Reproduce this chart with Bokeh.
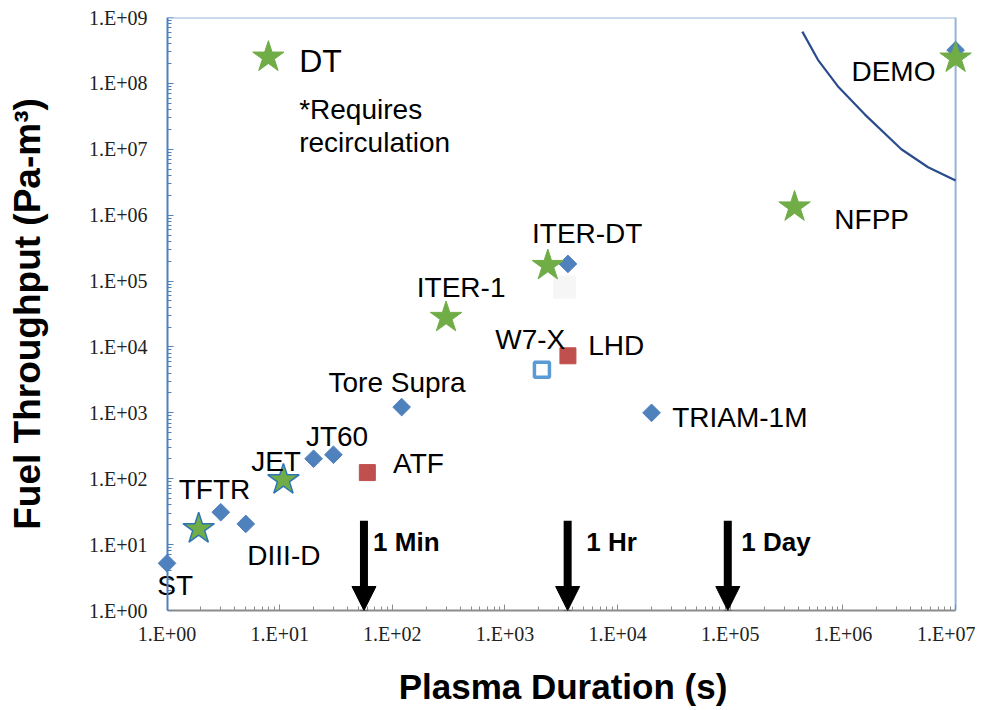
import numpy as np
from bokeh.plotting import figure
from bokeh.models import (Range1d, FixedTicker, CustomJSTickFormatter, Arrow,
                          NormalHead, ColumnDataSource, LogAxis)
from bokeh.core.properties import value
from bokeh.embed import file_html
from bokeh.resources import INLINE

# ---------------- data ----------------
# blue diamonds (machines)
dia_x = [1, 3, 5, 20, 30, 121, 3620, 20000, 1e7]
dia_y = [5.2, 31, 20.6, 201, 231, 1222, 182000, 1000, 3.2e8]

# DT stars with blue outline (TFTR, JET)
star_o_x = [1.91, 10.8]
star_o_y = [17.4, 96]

# DT stars plain (legend DT, ITER-1, ITER-DT, NFPP, DEMO)
star_x = [7.94, 300, 2400, 372000, 1e7]
star_y = [2.5e8, 28000, 172000, 1.33e6, 2.42e8]

# red squares (ATF, LHD)
red_x = [60, 3620]
red_y = [124, 7340]

# W7-X hollow square
w7_x = [2128]
w7_y = [4520]

# faint square under ITER-DT
faint_x = [3375]
faint_y = [81000]

# recirculation boundary curve
curve_x = [4.36e5, 6.0e5, 9.0e5, 1.56e6, 3.3e6, 5.7e6, 1e7]
curve_y = [6.1e8, 2.28e8, 9.06e7, 3.39e7, 1.0e7, 5.33e6, 3.36e6]

# time markers (arrows)
arrow_x = [56, 3600, 95000]
arrow_top = [23, 23, 23]
arrow_bot = [1, 1, 1]
arrow_lab = ["1 Min", "1 Hr", "1 Day"]
arrow_lab_x = [67.5, 5260, 125000]
arrow_lab_y = [10.9, 10.9, 10.9]

# labels
lab_c_text = ["ITER-DT", "ITER-1", "W7-X", "Tore Supra", "JT60", "TFTR", "JET", "DIII-D", "ST"]
lab_c_x = [5370, 408, 1675, 110, 32.3, 2.64, 9.29, 10.9, 1.18]
lab_c_y = [5.28e5, 7.85e4, 1.29e4, 2910, 432, 68.8, 181, 6.74, 2.38]

lab_l_text = ["LHD", "ATF", "NFPP", "TRIAM-1M", "*Requires", "recirculation"]
lab_l_x = [5480, 101.6, 8.39e5, 30500, 14.9, 14.9]
lab_l_y = [1.05e4, 169, 8.59e5, 864, 4.03e7, 1.28e7]

lab_r_text = ["DEMO"]
lab_r_x = [6.62e6]
lab_r_y = [1.51e8]

dt_text = ["DT"]
dt_x = [14.9]
dt_y = [2.2e8]

x_ticks = [10.0 ** i for i in range(0, 8)]
y_ticks = [10.0 ** i for i in range(0, 10)]
x_minor = [m * 10.0 ** i for i in range(0, 7) for m in range(2, 10)]
y_minor = [m * 10.0 ** i for i in range(0, 9) for m in range(2, 10)]

# ---------------- figure ----------------
x_lo, x_hi = x_ticks[0], x_ticks[-1]
y_lo, y_hi = y_ticks[0], y_ticks[-1]
p = figure(width=975, height=708, x_axis_type="log", y_axis_type="log",
           x_range=Range1d(x_lo * 10 ** -0.12, x_hi * 10 ** 0.15),
           y_range=Range1d(y_lo, y_hi),
           output_backend="svg", toolbar_location=None,
           min_border_left=153, min_border_top=17, min_border_right=3,
           min_border_bottom=93)
p.xgrid.visible = False
p.ygrid.visible = False
p.outline_line_color = None
p.background_fill_color = "white"
p.border_fill_color = "white"

fmt_code = """
const e = Math.round(Math.log10(tick));
return "1.E" + (e < 0 ? "-" : "+") + String(Math.abs(e)).padStart(2, "0");
"""

XCOL, YCOL = "#8C8C8C", "#4F81BD"
for ax, ticks, minor, col in ((p.xaxis[0], x_ticks, x_minor, XCOL),
                              (p.yaxis[0], y_ticks, y_minor, YCOL)):
    ax.ticker = FixedTicker(ticks=ticks, minor_ticks=minor)
    ax.formatter = CustomJSTickFormatter(code=fmt_code)
    ax.axis_line_color = col
    ax.axis_line_width = 2
    ax.major_tick_line_color = col
    ax.minor_tick_line_color = col
    ax.major_tick_in = 6
    ax.major_tick_out = 0
    ax.minor_tick_in = 4
    ax.minor_tick_out = 0
    ax.major_label_text_font = "Liberation Sans Narrow"
    ax.major_label_text_font_size = "20px"
    ax.major_label_text_color = "#222222"
    ax.axis_label_text_font = "Liberation Sans"
    ax.axis_label_text_font_style = "bold"
    ax.axis_label_text_color = "black"

p.xaxis.bounds = (x_lo, x_hi)
p.xaxis.axis_label = "Plasma Duration (s)"
p.xaxis.axis_label_text_font_size = "35px"
p.xaxis.major_label_standoff = 12
p.xaxis.axis_label_standoff = 19

# left axis: labels and title only (line and ticks are drawn by the axis at x = 1)
ya = p.yaxis[0]
ya.axis_line_color = None
ya.major_tick_line_color = None
ya.minor_tick_line_color = None
ya.axis_label = "Fuel Throughput (Pa-m³)"
ya.axis_label_text_font_size = "37px"
ya.major_label_standoff = 6
ya.axis_label_standoff = 38

yb = LogAxis(ticker=FixedTicker(ticks=y_ticks, minor_ticks=y_minor),
             formatter=CustomJSTickFormatter(code='return "";'),
             fixed_location=x_lo, axis_line_color=YCOL, axis_line_width=2,
             major_tick_line_color=YCOL, minor_tick_line_color=YCOL,
             major_tick_in=6, major_tick_out=0, minor_tick_in=4, minor_tick_out=0,
             major_label_standoff=0, major_label_text_font_size="1px")
p.add_layout(yb, "left")

# plot-area border (top and right)
p.line([x_lo, x_hi, x_hi], [y_hi, y_hi, y_lo], line_color="#95B3D7", line_width=2)

# curve
p.line(curve_x, curve_y, line_color="#2B4C8C", line_width=2.2)

# faint square
p.scatter(faint_x, faint_y, marker="square", size=23, fill_color="#F6F6F6",
          line_color=None)

# diamonds
p.scatter(dia_x, dia_y, marker="square", angle=np.pi / 4, size=12.5,
          fill_color="#4F81BD", line_color="#4F81BD", line_width=1)

# red squares
p.scatter(red_x, red_y, marker="square", size=16, fill_color="#C0504D",
          line_color="#C0504D")

# W7-X hollow square
p.scatter(w7_x, w7_y, marker="square", size=15, fill_color="white",
          line_color="#5B9BD5", line_width=3.5)

# stars
p.scatter(star_o_x, star_o_y, marker="star", size=33, fill_color="#70AD47",
          line_color="#2E75B6", line_width=1.5)
p.scatter(star_x, star_y, marker="star", size=33, fill_color="#70AD47",
          line_color="#70AD47", line_width=1)

# arrows
asrc = ColumnDataSource(dict(x=arrow_x, top=arrow_top, bot=arrow_bot))
p.add_layout(Arrow(end=NormalHead(size=24, fill_color="black", line_color="black",
                                  line_width=1),
                   x_start="x", y_start="top", x_end="x", y_end="bot",
                   source=asrc, line_width=8, line_color="black"))
p.text(arrow_lab_x, arrow_lab_y, text=arrow_lab, text_font=value("Liberation Sans"),
       text_font_size="26px", text_font_style="bold", text_align="left",
       text_baseline="middle", text_color="black")

# labels
lab_font = value("Liberation Sans")
p.text(lab_c_x, lab_c_y, text=lab_c_text, text_font=lab_font, text_font_size="28px",
       text_align="center", text_baseline="middle", text_color="black")
p.text(lab_l_x, lab_l_y, text=lab_l_text, text_font=lab_font, text_font_size="28px",
       text_align="left", text_baseline="middle", text_color="black")
p.text(lab_r_x, lab_r_y, text=lab_r_text, text_font=lab_font, text_font_size="28px",
       text_align="right", text_baseline="middle", text_color="black")
p.text(dt_x, dt_y, text=dt_text, text_font=lab_font, text_font_size="32px",
       text_align="left", text_baseline="middle", text_color="black")

open("out.html", "w").write(file_html(p, INLINE))
